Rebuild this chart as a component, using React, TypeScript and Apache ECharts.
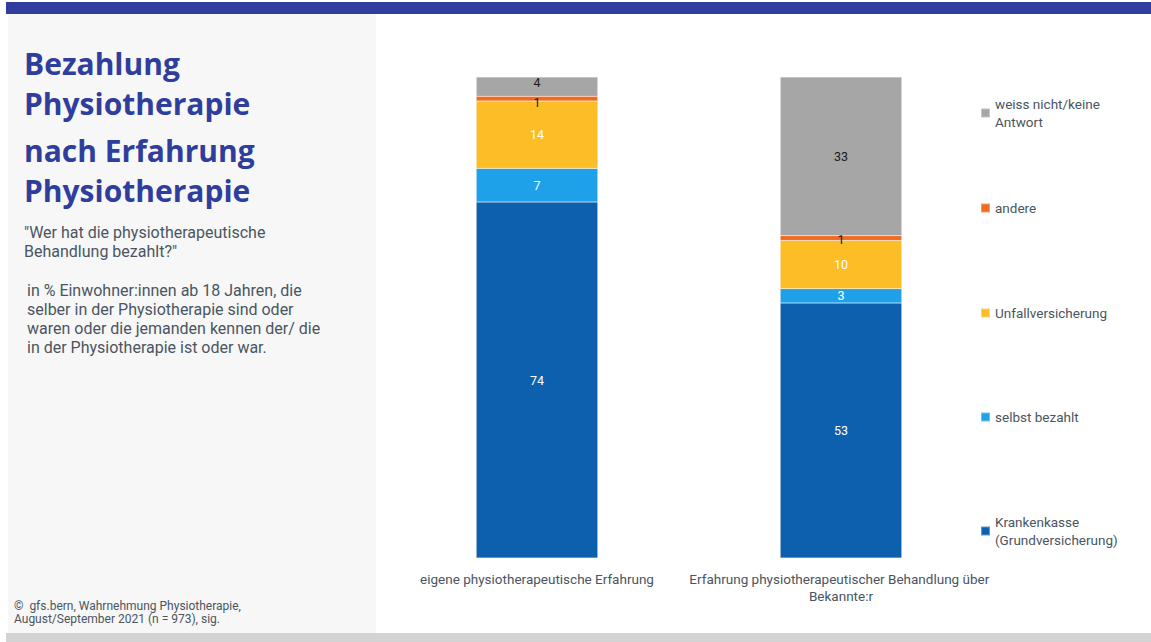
import React, { useEffect, useRef } from "react";
import * as echarts from "echarts";

const categories = [
  "eigene physiotherapeutische Erfahrung",
  "Erfahrung physiotherapeutischer Behandlung über Bekannte:r",
];
const seriesNames = [
  "Krankenkasse\n(Grundversicherung)",
  "selbst bezahlt",
  "Unfallversicherung",
  "andere",
  "weiss nicht/keine\nAntwort",
];
const krankenkasse = [74, 53];
const selbstBezahlt = [7, 3];
const unfallversicherung = [14, 10];
const andere = [1, 1];
const weissNicht = [4, 33];

const seriesColors = ["#0d60ae", "#1fa1ea", "#fcbd27", "#ef6b21", "#a6a6a6"];
const labelColors = ["#ffffff", "#ffffff", "#ffffff", "#1a1a1a", "#1a1a1a"];
// small label nudges so that neighbouring labels of thin segments do not collide
const labelOffsets = [
  [[0, 0], [0, 0]],
  [[0, 0], [0, 0]],
  [[0, 0], [0, 0]],
  [[0, 4], [0, 1]],
  [[0, -4], [0, 0]],
];
const legendFirstLineY = [522, 417, 313, 208, 104];

const FONT = "Roboto, 'Noto Sans', sans-serif";
const OPEN = "'Open Sans', Roboto, sans-serif";
const TEXT = "#4a5561";

export default function App() {
  const ref = useRef<HTMLDivElement>(null);
  useEffect(() => {
    if (!ref.current) return;
    const chart = echarts.init(ref.current, null, { renderer: "svg" });
    const values = [krankenkasse, selbstBezahlt, unfallversicherung, andere, weissNicht];
    const series = values.map((v, i) => ({
      name: seriesNames[i],
      type: "bar",
      stack: "total",
      barWidth: "40%",
      data: v.map((val, j) => ({ value: val, label: { offset: labelOffsets[i][j] } })),
      itemStyle: { color: seriesColors[i], borderColor: "rgba(255,255,255,0.35)", borderWidth: 0.5 },
      label: {
        show: true,
        position: "inside",
        color: labelColors[i],
        fontSize: 12.5,
        fontFamily: FONT,
      },
    }));
    const legends = seriesNames.map((n, i) => {
      const multi = n.includes("\n");
      return {
        data: [n],
        orient: "vertical",
        left: 975,
        top: multi ? legendFirstLineY[i] - 23 : legendFirstLineY[i] - 14,
        icon: "rect",
        itemWidth: 9,
        itemHeight: 9,
        selectedMode: false,
        textStyle: {
          color: TEXT,
          fontSize: 13.5,
          fontFamily: FONT,
          lineHeight: 18,
          padding: multi ? [18, 0, 0, 0] : 0,
        },
      };
    });
    chart.setOption({
      animation: false,
      backgroundColor: "#ffffff",
      textStyle: { fontFamily: FONT },
      grid: { left: 385, right: 1151 - 993, top: 77, bottom: 642 - 558 },
      xAxis: {
        type: "category",
        data: categories,
        axisLine: { show: false },
        axisTick: { show: false },
        axisLabel: {
          color: TEXT,
          fontSize: 13.5,
          fontFamily: FONT,
          margin: 12,
          lineHeight: 17,
          width: 330,
          overflow: "break",
          interval: 0,
        },
      },
      yAxis: { type: "value", min: 0, max: 100, show: false },
      legend: legends,
      series,
      graphic: [
        { type: "rect", shape: { x: 6, y: 2, width: 1145, height: 12 }, style: { fill: "#2f3e9c" }, z: -10 },
        { type: "rect", shape: { x: 8, y: 14, width: 368, height: 619 }, style: { fill: "#f7f7f7" }, z: -10 },
        { type: "rect", shape: { x: 6, y: 633, width: 1145, height: 9 }, style: { fill: "#d3d3d3" }, z: -10 },
        {
          type: "text",
          x: 24,
          y: 43,
          style: {
            text: "Bezahlung\nPhysiotherapie",
            fill: "#2f3e9c",
            font: `bold 30px ${OPEN}`,
            lineHeight: 40,
            verticalAlign: "top",
          },
        },
        {
          type: "text",
          x: 24,
          y: 130,
          style: {
            text: "nach Erfahrung\nPhysiotherapie",
            fill: "#2f3e9c",
            font: `bold 30px ${OPEN}`,
            lineHeight: 40,
            verticalAlign: "top",
          },
        },
        {
          type: "text",
          x: 24,
          y: 222.5,
          style: {
            text: '"Wer hat die physiotherapeutische\nBehandlung bezahlt?"',
            fill: TEXT,
            font: `16px ${FONT}`,
            lineHeight: 19,
            verticalAlign: "top",
          },
        },
        {
          type: "text",
          x: 27,
          y: 280.5,
          style: {
            text: "in % Einwohner:innen ab 18 Jahren, die\nselber in der Physiotherapie sind oder\nwaren oder die jemanden kennen der/ die\nin der Physiotherapie ist oder war.",
            fill: TEXT,
            font: `16px ${FONT}`,
            lineHeight: 19,
            verticalAlign: "top",
          },
        },
        {
          type: "text",
          x: 14,
          y: 599.5,
          style: {
            text: "©  gfs.bern, Wahrnehmung Physiotherapie,\nAugust/September 2021 (n = 973), sig.",
            fill: TEXT,
            font: `12px ${FONT}`,
            lineHeight: 13,
            verticalAlign: "top",
          },
        },
      ],
    });
    return () => chart.dispose();
  }, []);
  return (
    <div
      ref={ref}
      style={{ position: "fixed", left: 0, top: 0, width: 1151, height: 642 }}
    />
  );
}
